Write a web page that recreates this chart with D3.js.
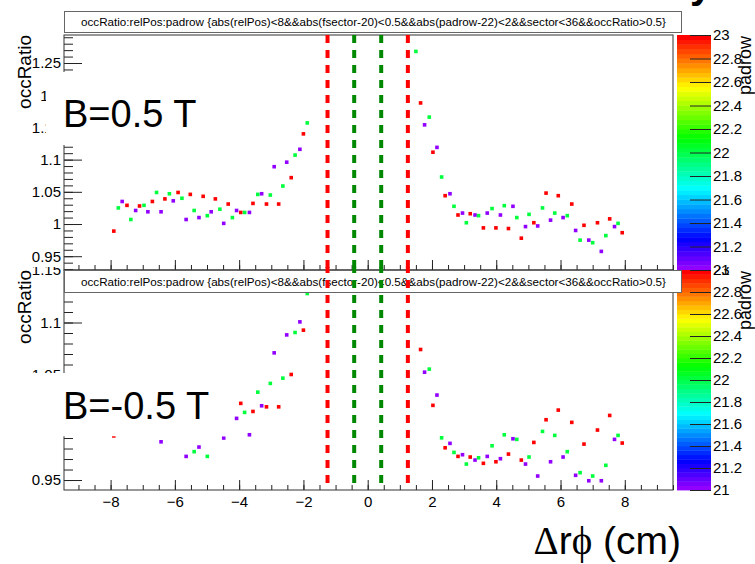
<!DOCTYPE html>
<html>
<head>
<meta charset="utf-8">
<script src="https://cdn.jsdelivr.net/npm/d3@7"></script>
<style>
  body { margin: 0; background: #fff; }
  svg { display: block; }
  text { font-family: "Liberation Sans", Arial, Helvetica, sans-serif; }
</style>
</head>
<body>
<svg id="canvas" width="755" height="564"></svg>
<script>
// ---- data ----
// top pad, B=0.5 T
var topRelPos = [-7.90,-7.76,-7.64,-7.49,-7.37,-7.22,-7.10,-6.96,-6.84,-6.70,-6.57,-6.43,-6.31,-6.17,-6.05,-5.90,
  -5.78,-5.65,-5.52,-5.40,-5.25,-5.12,-4.99,-4.87,-4.74,-4.60,-4.48,-4.34,-4.21,-4.08,-3.95,-3.83,-3.68,-3.57,
  -3.42,-3.30,-3.15,-3.03,-2.91,-2.77,-2.64,-2.52,-2.38,-2.26,-2.11,-2.00,-1.88,
  1.50,1.645,1.77,1.916,2.03,2.155,2.30,2.41,2.56,2.685,2.81,2.95,3.07,3.19,3.34,3.45,3.60,3.72,3.87,3.99,
  4.13,4.25,4.38,4.52,4.64,4.78,4.91,5.02,5.17,5.29,5.44,5.55,5.69,5.82,5.93,6.08,6.21,6.35,6.47,6.61,6.73,
  6.88,7.00,7.15,7.27,7.41,7.53,7.68,7.79,7.92];
var topOcc = [0.989,1.025,1.035,1.029,1.007,1.021,1.028,1.029,1.019,1.035,1.049,1.019,1.039,1.047,1.036,1.049,
  1.040,1.007,1.046,1.021,1.010,1.043,1.013,1.019,1.039,1.023,1.001,1.031,1.010,1.021,1.018,1.018,1.018,1.032,
  1.046,1.047,1.031,1.045,1.089,1.031,1.059,1.096,1.072,1.107,1.116,1.140,1.157,
  1.268,1.188,1.154,1.166,1.1115,1.119,1.073,1.044,1.047,1.0275,1.014,1.017,1.002,1.016,1.014,1.013,0.994,1.017,
  1.024,0.994,1.014,1.0285,0.993,1.0275,1.010,0.978,0.996,1.015,1.002,0.997,1.025,1.048,1.006,1.017,1.044,
  1.010,1.013,1.031,0.990,0.975,0.998,0.975,0.971,1.002,0.9575,0.982,1.008,0.996,1.001,0.9865];
var topRow = [23,22,21,23,22,21,23,22,21,23,22,21,23,22,21,23,22,21,23,22,21,23,22,21,23,22,21,23,22,21,
  23,22,21,23,22,21,23,22,21,23,22,21,23,22,21,23,22,
  22,23,21,22,23,21,22,23,21,22,23,21,22,23,21,22,23,21,22,23,21,22,23,21,22,23,21,22,23,21,22,23,21,22,23,21,
  22,23,21,22,23,21,22,23,21,22,23,21,22,23];

// bottom pad, B=-0.5 T
var botRelPos = [-7.90,-6.43,-5.65,-5.40,-5.25,-4.99,-4.48,-4.08,-3.95,-3.83,-3.68,-3.57,-3.42,-3.30,-3.15,
  -3.03,-2.91,-2.77,-2.64,-2.52,-2.38,-2.26,-2.11,-2.00,-1.88,
  1.645,1.77,1.916,2.03,2.155,2.30,2.41,2.56,2.685,2.81,2.95,3.07,3.19,3.34,3.45,3.60,3.72,3.87,3.99,4.13,
  4.25,4.38,4.52,4.64,4.78,4.91,5.02,5.17,5.29,5.44,5.55,5.69,5.82,5.93,6.08,6.21,6.35,6.47,6.61,6.73,6.88,
  7.00,7.15,7.27,7.41,7.53,7.68,7.79,7.92];
var botOcc = [0.992,0.9864,0.9725,0.977,0.9814,0.9725,0.990,1.0087,1.023,1.0144,0.9931,1.0153,1.0337,1.0207,
  1.0197,1.042,1.0711,1.0197,1.047,1.0882,1.0505,1.0905,1.1006,1.0927,1.1276,
  1.0743,1.0527,1.0556,1.0211,1.0309,0.9902,0.9807,0.9849,0.9763,0.9725,0.9741,0.9652,0.9719,0.969,0.9712,
  0.9659,0.9725,0.9826,0.9674,0.9703,0.9931,0.9747,0.9893,0.9887,0.969,0.9652,0.9719,0.9858,0.9538,0.9963,
  1.0074,0.9674,0.9925,1.0166,0.9719,0.977,1.0049,0.9545,0.957,0.9842,0.9493,0.9538,0.9976,0.9493,0.964,
  1.0115,0.9887,0.9925,0.9852];
var botRow = [23,21,21,22,21,22,21,21,23,22,21,23,22,21,23,22,21,23,22,21,23,22,21,23,22,
  23,21,22,23,21,22,23,21,22,23,21,22,23,21,22,23,21,22,23,21,22,23,21,22,23,21,22,23,21,22,23,21,22,23,21,
  22,23,21,22,23,21,22,23,21,22,23,21,22,23];

// cut lines (cm)
var redCuts = [-1.25, 1.25];
var greenCuts = [-0.42, 0.42];

var titleText = "occRatio:relPos:padrow {abs(relPos)<8&&abs(fsector-20)<0.5&&abs(padrow-22)<2&&sector<36&&occRatio>0.5}";

// ---- layout ----
var svg = d3.select("#canvas");
var fx0 = 64, fx1 = 673;
var px0 = 677, px1 = 711;   // palette
var x = d3.scaleLinear().domain([-9.45, 9.5]).range([fx0, fx1]);

// ROOT "pretty" palette: 50 HLS colours, hue 280 -> 0
var nCol = 50;
var palette = d3.range(nCol).map(function(i) {
  return d3.hsl(280 - (i + 1) * 280 / nCol, 1, 0.5).toString();
});
function zColor(z) {
  var i = Math.floor((z - 21) / 2 * nCol);
  return palette[Math.max(0, Math.min(nCol - 1, i))];
}
function fmt(v) { return String(+v.toFixed(2)).replace("-", "\u2212"); }
var FONT = "'Liberation Sans', Arial, sans-serif";
var SERIF = "'Liberation Serif', 'DejaVu Serif', serif";

var defs = svg.append("defs");
function clip(id, x0, y0, w, h) {
  defs.append("clipPath").attr("id", id).append("rect")
    .attr("x", x0).attr("y", y0).attr("width", w).attr("height", h);
}
clip("frameTop", fx0, 35, fx1 - fx0, 235);
clip("frameBot", fx0, 270, fx1 - fx0, 220);
clip("padBot", 0, 267, 755, 297);

function styleAxis(a) {
  a.select(".domain").remove();
  a.selectAll("line").attr("stroke", "#222");
  a.selectAll("text").attr("font-size", 15).attr("fill", "#000").attr("font-family", FONT);
}

function drawPad(g, o) {
  var y = o.y, z = o.z;
  var y0 = y.range()[1], y1 = y.range()[0];

  g.append("rect").attr("x", fx0).attr("y", y0).attr("width", fx1 - fx0).attr("height", y1 - y0)
    .attr("fill", "#fff");

  // markers
  g.append("g").attr("clip-path", "url(#" + o.clip + ")")
    .selectAll("rect").data(o.relPos).join("rect")
      .attr("x", function(d) { return x(d) - 1.8; })
      .attr("y", function(d, i) { return y(o.occ[i]) - 1.8; })
      .attr("width", 3.6).attr("height", 3.6)
      .attr("fill", function(d, i) { return zColor(o.row[i]); });

  // y axis: major every 0.05, minor every 0.01
  g.append("g").attr("transform", "translate(" + fx0 + ",0)")
    .call(d3.axisLeft(y).tickValues(y.ticks(o.nMinor)).tickSize(-9).tickFormat(""))
    .call(styleAxis);
  g.append("g").attr("transform", "translate(" + fx0 + ",0)")
    .call(d3.axisLeft(y).tickValues(y.ticks(o.nMajor)).tickSize(-18).tickPadding(3).tickFormat(fmt))
    .call(styleAxis);

  // x axis ticks
  var xMinor = d3.range(-9, 9.6, 0.5), xMajor = [-8, -6, -4, -2, 0, 2, 4, 6, 8];
  g.append("g").attr("transform", "translate(0," + y1 + ")")
    .call(d3.axisBottom(x).tickValues(xMinor).tickSize(-5).tickFormat(""))
    .call(styleAxis);
  g.append("g").attr("transform", "translate(0," + y1 + ")")
    .call(d3.axisBottom(x).tickValues(xMajor).tickSize(-10).tickPadding(6)
      .tickFormat(o.xLabels ? fmt : ""))
    .call(styleAxis);

  // frame
  g.append("rect").attr("x", fx0).attr("y", y0).attr("width", fx1 - fx0).attr("height", y1 - y0)
    .attr("fill", "none").attr("stroke", "#333").attr("stroke-width", 1);

  // palette
  var band = (y1 - y0) / nCol;
  g.append("g").selectAll("rect").data(palette).join("rect")
    .attr("x", px0).attr("width", px1 - px0)
    .attr("y", function(d, i) { return z(21 + (i + 1) * 2 / nCol); })
    .attr("height", band + 0.4)
    .attr("fill", function(d) { return d; });
  g.append("g").attr("transform", "translate(" + px1 + ",0)")
    .call(d3.axisRight(z).tickValues(d3.range(21, 23.01, 0.2)).tickSize(-21).tickPadding(2)
      .tickFormat(function(v) { return String(+v.toFixed(1)); }))
    .call(styleAxis);
  g.append("text").attr("transform", "translate(751," + (y0 + 1) + ") rotate(-90)")
    .attr("text-anchor", "end").attr("font-size", 18).text("padrow");

  // title box
  g.append("rect").attr("x", fx0 + 0.5).attr("y", o.tY0 + 0.5).attr("width", 617).attr("height", o.tY1 - o.tY0)
    .attr("fill", "#fff").attr("stroke", "#666").attr("stroke-width", 1);
  g.append("text").attr("x", 81).attr("y", o.tY1 - 6).attr("font-size", 11)
    .attr("textLength", 585).attr("lengthAdjust", "spacingAndGlyphs").text(titleText);

  // y title
  g.append("text").attr("transform", "translate(31," + y0 + ") rotate(-90)")
    .attr("text-anchor", "end").attr("font-size", 19).text("occRatio");

  // field label box
  g.append("rect").attr("x", o.bx0).attr("y", o.by0).attr("width", o.bx1 - o.bx0).attr("height", o.by1 - o.by0)
    .attr("fill", "#fff");
  g.append("text").attr("x", 63).attr("y", o.bBase).attr("font-size", 38).text(o.label);
}

function dashed(g, cuts, color, ya, yb) {
  g.append("g").selectAll("path").data(cuts).join("path")
    .attr("d", function(d) { return "M" + x(d) + "," + ya + "V" + yb; })
    .attr("stroke", color).attr("stroke-width", 4).attr("stroke-dasharray", "8,7").attr("fill", "none");
}

// canvas title, almost entirely outside the picture
svg.append("text").attr("x", 690).attr("y", -2).attr("font-size", 40).attr("font-weight", "bold").text("y");

// top pad
var gTop = svg.append("g");
drawPad(gTop, {
  y: d3.scaleLinear().domain([0.9286, 1.2935]).range([270, 35]),
  z: d3.scaleLinear().domain([21, 23]).range([270, 35]),
  nMajor: 8, nMinor: 40, xLabels: false,
  relPos: topRelPos, occ: topOcc, row: topRow, clip: "frameTop",
  tY0: 11, tY1: 32,
  bx0: 46, bx1: 215, by0: 72, by1: 145, bBase: 127, label: "B=0.5 T"
});
dashed(gTop, redCuts, "#ff0000", 35, 270);
dashed(gTop, greenCuts, "#008800", 35, 270);

// bottom pad
var gBot = svg.append("g").attr("clip-path", "url(#padBot)");
drawPad(gBot, {
  y: d3.scaleLinear().domain([0.9405, 1.15]).range([490, 270]),
  z: d3.scaleLinear().domain([21, 23]).range([490, 270]),
  nMajor: 4, nMinor: 20, xLabels: true,
  relPos: botRelPos, occ: botOcc, row: botRow, clip: "frameBot",
  tY0: 270, tY1: 292,
  bx0: 20, bx1: 230, by0: 373, by1: 436.3, bBase: 419, label: "B=-0.5 T"
});
dashed(gBot, redCuts, "#ff0000", 483, 266);
dashed(gBot, greenCuts, "#008800", 483, 266);

var xt = gBot.append("text").attr("x", 681).attr("y", 554).attr("text-anchor", "end").attr("font-size", 39);
xt.append("tspan").attr("font-family", SERIF).text("\u0394");
xt.append("tspan").text("r");
xt.append("tspan").attr("font-family", SERIF).text("\u03d5");
xt.append("tspan").text(" (cm)");
</script>
</body>
</html>
